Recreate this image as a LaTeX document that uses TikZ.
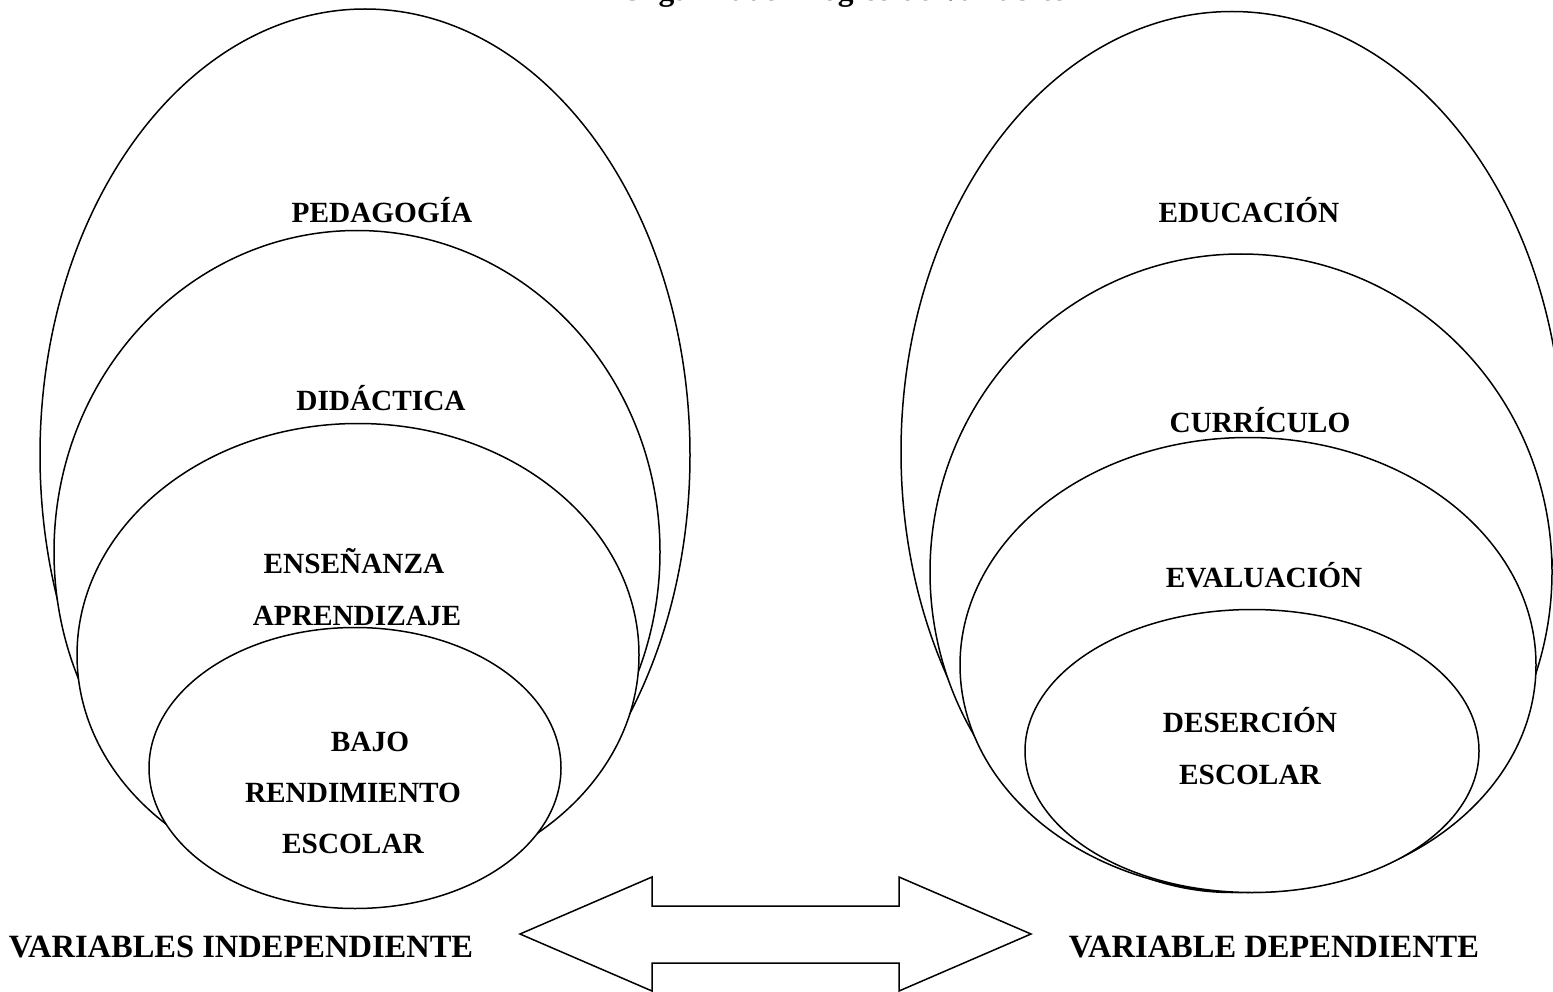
\documentclass[tikz,border=0pt]{standalone}
\usepackage{fontspec}
\setmainfont{Liberation Serif}
\usetikzlibrary{shapes.geometric}
\begin{document}
\begin{tikzpicture}[x=1pt,y=-1pt,
  oval/.style={ellipse, draw, fill=white, line width=1.5pt, inner sep=0pt, outer sep=0pt},
  lbl/.style={font=\fontsize{29.3}{35}\selectfont\bfseries, anchor=base, inner sep=0pt},
  biglbl/.style={font=\fontsize{32.5}{38}\selectfont\bfseries, anchor=base, inner sep=0pt},
  bigarrow/.style={draw, fill=white, line width=1.5pt, line join=miter}]
\useasboundingbox (0,0) rectangle (1553,992);
\clip (0,0) rectangle (1553,992);
\fill[white] (0,0) rectangle (1553,992);
\node[font=\fontsize{31.5}{37}\selectfont\bfseries, anchor=base, inner sep=0pt] (title) at (843,1) {Organizador Lógico de Variables};
% left group
\node[oval, minimum width=650pt, minimum height=892pt] (ped) at (365,455) {};
\node[oval, minimum width=606pt, minimum height=643pt] (did) at (357,552) {};
\node[oval, minimum width=562pt, minimum height=463pt] (ens) at (358,655) {};
\node[oval, minimum width=412pt, minimum height=281pt] (bajo) at (355,768) {};
\node[lbl] (tped) at (382,223) {PEDAGOGÍA};
\node[lbl] (tdid) at (381,410) {DIDÁCTICA};
\node[lbl] (tens1) at (354,573) {ENSEÑANZA};
\node[lbl] (tens2) at (357,625) {APRENDIZAJE};
\node[lbl] (tbajo1) at (370,751) {BAJO};
\node[lbl] (tbajo2) at (353,802) {RENDIMIENTO};
\node[lbl] (tbajo3) at (353,853) {ESCOLAR};
\node[biglbl] (vind) at (241,957) {VARIABLES INDEPENDIENTE};
% right group
\node[oval, minimum width=662pt, minimum height=881pt] (edu) at (1232,452) {};
\node[oval, minimum width=622pt, minimum height=636pt] (cur) at (1241,572) {};
\node[oval, minimum width=576pt, minimum height=455pt] (eva) at (1248,665) {};
\node[oval, minimum width=454pt, minimum height=283pt] (des) at (1252,751) {};
\node[lbl] (tedu) at (1249,223) {EDUCACIÓN};
\node[lbl] (tcur) at (1260,432) {CURRÍCULO};
\node[lbl] (teva) at (1264,587) {EVALUACIÓN};
\node[lbl] (tdes1) at (1250,732) {DESERCIÓN};
\node[lbl] (tdes2) at (1250,784) {ESCOLAR};
\node[biglbl] (vdep) at (1274,957) {VARIABLE DEPENDIENTE};
% double arrow
\coordinate (ltip) at (520,934);
\coordinate (rtip) at (1031,934);
\draw[bigarrow] (ltip) -- (652,877) -- (652,906) -- (899,906) -- (899,877) -- (rtip)
  -- (899,991) -- (899,963) -- (652,963) -- (652,991) -- cycle;
\end{tikzpicture}
\end{document}
